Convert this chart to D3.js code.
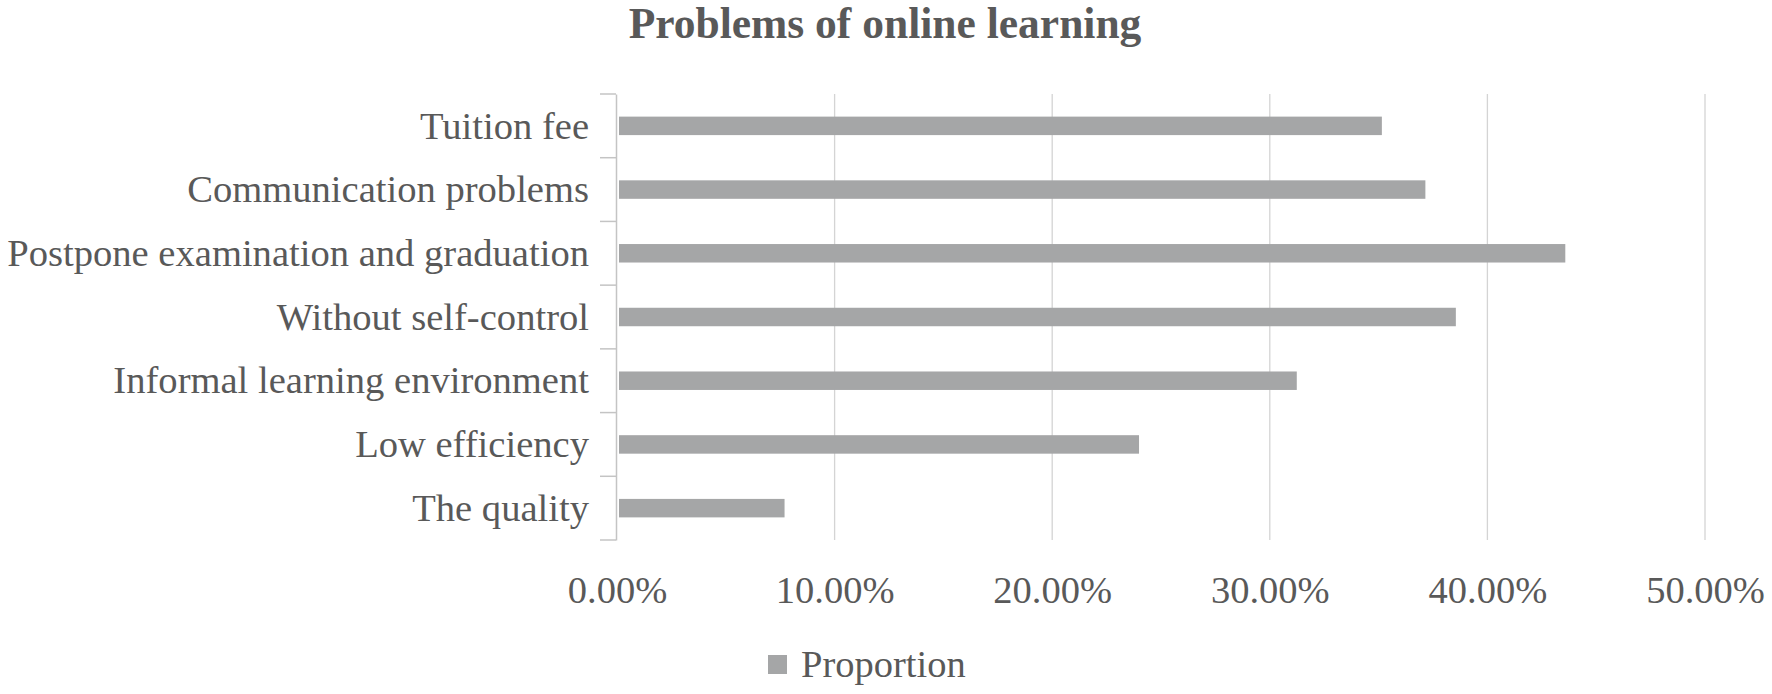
<!DOCTYPE html>
<html>
<head>
<meta charset="utf-8">
<script src="https://cdn.jsdelivr.net/npm/d3@7"></script>
<style>
  html, body { margin: 0; padding: 0; background: #fff; }
  svg text { font-family: "Liberation Serif", "Times New Roman", serif; fill: #595959; }
</style>
</head>
<body>
<div id="chart"></div>
<script>
// data
const categories = [
  "Tuition fee",
  "Communication problems",
  "Postpone examination and graduation",
  "Without self-control",
  "Informal learning environment",
  "Low efficiency",
  "The quality"
];
const proportion = [0.3515, 0.3715, 0.4358, 0.3855, 0.3124, 0.2399, 0.0770];
const xTicks = [0, 0.1, 0.2, 0.3, 0.4, 0.5];
const seriesName = "Proportion";
const title = "Problems of online learning";

const W = 1772, H = 694;
const m = { top: 94, right: 67, bottom: 154, left: 617 };

const svg = d3.select("#chart")
  .append("svg")
    .attr("width", W)
    .attr("height", H);

const x = d3.scaleLinear()
  .domain([0, 0.5])
  .range([m.left, W - m.right]);

const y = d3.scaleBand()
  .domain(categories)
  .range([m.top, H - m.bottom])
  .padding(0);

const barH = y.bandwidth() * 0.29;

// gridlines
svg.append("g")
  .selectAll("line")
  .data(xTicks.filter(d => d > 0))
  .join("line")
    .attr("x1", d => x(d))
    .attr("x2", d => x(d))
    .attr("y1", m.top)
    .attr("y2", H - m.bottom)
    .attr("stroke", "#d4d4d4")
    .attr("stroke-width", 1.3);

// bars
svg.append("g")
  .selectAll("rect")
  .data(categories)
  .join("rect")
    .attr("x", x(0) + 2)
    .attr("y", d => y(d) + (y.bandwidth() - barH) / 2)
    .attr("width", (d, i) => x(proportion[i]) - x(0) - 2)
    .attr("height", barH)
    .attr("fill", "#a5a6a7");

// category axis (labels only, ticks drawn at band edges)
const yAxis = svg.append("g")
  .attr("transform", `translate(${m.left - 1},0)`)
  .call(d3.axisLeft(y).tickSize(0).tickPadding(27));
yAxis.select(".domain").attr("stroke", "#c4c4c4").attr("stroke-width", 1.5);
yAxis.selectAll("text")
  .attr("font-size", 38.6)
  .attr("font-family", "Liberation Serif, Times New Roman, serif")
  .attr("fill", "#595959")
  .attr("dy", "0.33em");

const edges = categories.map(d => y(d)).concat([y.range()[1]]);
svg.append("g")
  .selectAll("line")
  .data(edges)
  .join("line")
    .attr("x1", m.left - 17)
    .attr("x2", m.left - 1)
    .attr("y1", d => d)
    .attr("y2", d => d)
    .attr("stroke", "#c4c4c4")
    .attr("stroke-width", 1.5);

// value axis labels
const xAxis = svg.append("g")
  .attr("transform", `translate(0,${H - m.bottom})`)
  .call(d3.axisBottom(x).tickValues(xTicks).tickFormat(d3.format(".2%")).tickSize(0).tickPadding(63));
xAxis.select(".domain").remove();
xAxis.selectAll("text")
  .attr("font-size", 38.5)
  .attr("font-family", "Liberation Serif, Times New Roman, serif")
  .attr("fill", "#595959")
  .attr("dy", 0);

// title
svg.append("text")
  .attr("x", W / 2 - 1)
  .attr("y", 38)
  .attr("text-anchor", "middle")
  .attr("font-size", 43.5)
  .attr("font-weight", "bold")
  .text(title);

// legend
const lg = svg.append("g").attr("transform", "translate(768,655)");
lg.append("rect")
  .attr("width", 19)
  .attr("height", 19)
  .attr("fill", "#a5a6a7");
lg.append("text")
  .attr("x", 33)
  .attr("y", 22)
  .attr("font-size", 38.5)
  .text(seriesName);
</script>
</body>
</html>
